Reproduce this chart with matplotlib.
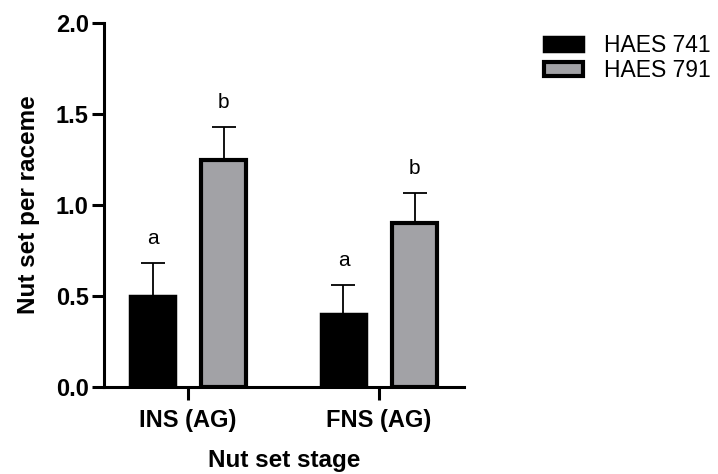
import matplotlib.pyplot as plt
import numpy as np

plt.rcParams['font.family'] = ['Liberation Sans', 'DejaVu Sans']

stages = ["INS (AG)", "FNS (AG)"]
cultivars = ["HAES 741", "HAES 791"]
means_741 = [0.50, 0.40]
err_741 = [0.18, 0.16]
means_791 = [1.25, 0.90]
err_791 = [0.18, 0.165]
letters_741 = ["a", "a"]
letters_791 = ["b", "b"]

fig = plt.figure(figsize=(7.18, 4.74), dpi=100)
ax = fig.add_axes([104/718, 1 - 387/474, (464-104)/718, (387-23)/474])

x = np.arange(len(stages))
w = 0.235
off = 0.186

ax.bar(x - off, means_741, w, color="black", edgecolor="black", linewidth=2.5,
       label=cultivars[0], zorder=3)
ax.bar(x + off, means_791, w, color="#a2a2a6", edgecolor="black", linewidth=3.0,
       label=cultivars[1], zorder=3)
ax.errorbar(x - off, means_741, yerr=[np.zeros(2), err_741], fmt="none",
            ecolor="black", elinewidth=1.3, capsize=8.5, capthick=1.3, zorder=2)
ax.errorbar(x + off, means_791, yerr=[np.zeros(2), err_791], fmt="none",
            ecolor="black", elinewidth=1.3, capsize=8.5, capthick=1.3, zorder=2)

for i in range(len(stages)):
    ax.text(x[i] - off, means_741[i] + err_741[i] + 0.105, letters_741[i],
            ha="center", va="baseline", fontsize=15)
    ax.text(x[i] + off, means_791[i] + err_791[i] + 0.105, letters_791[i],
            ha="center", va="baseline", fontsize=15)

ax.set_xlim(-0.44, 1.445)
ax.set_ylim(0, 2.0)
ax.set_yticks([0.0, 0.5, 1.0, 1.5, 2.0])
ax.set_yticklabels(["0.0", "0.5", "1.0", "1.5", "2.0"])
ax.set_xticks(x)
ax.set_xticklabels(stages)
for s in ["top", "right"]:
    ax.spines[s].set_visible(False)
for s in ["left", "bottom"]:
    ax.spines[s].set_linewidth(2.2)
ax.tick_params(width=2.2, length=9, labelsize=17)
ax.tick_params(axis="y", pad=2)
ax.tick_params(axis="x", pad=7)
for lab in ax.get_xticklabels() + ax.get_yticklabels():
    lab.set_fontweight("bold")

ax.set_ylabel("Nut set per raceme", fontsize=17.5, fontweight="bold", labelpad=11)
ax.set_xlabel("Nut set stage", fontsize=17.5, fontweight="bold", labelpad=12)

fig.legend(loc="upper left", bbox_to_anchor=(544/718, 1 - 34/474), frameon=False,
           fontsize=16.5, handlelength=1.7, handleheight=0.55, labelspacing=0.1,
           handletextpad=0.9, borderpad=0, borderaxespad=0)

fig.savefig("out.png", dpi=100)
